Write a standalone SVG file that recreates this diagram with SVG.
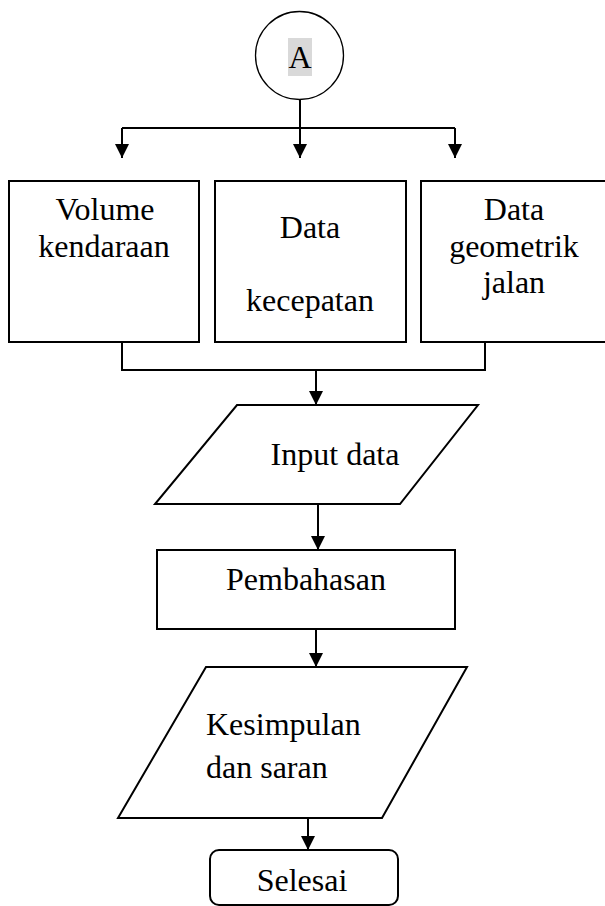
<svg xmlns="http://www.w3.org/2000/svg" width="605" height="906" viewBox="0 0 605 906">
<defs>
<marker id="ah" viewBox="0 0 10 10" refX="10" refY="5" markerWidth="14" markerHeight="15" markerUnits="userSpaceOnUse" orient="auto">
<path d="M0,0 L10,5 L0,10 Z" fill="#000"/>
</marker>
<style>
.box{fill:#fff;stroke:#000;stroke-width:2}
.thin{fill:#fff;stroke:#000;stroke-width:1.3}
.ln{fill:none;stroke:#000;stroke-width:2}
.t{font-family:"Liberation Serif","Times New Roman",serif;font-size:32px;fill:#000}
.c{text-anchor:middle}
</style>
</defs>
<rect width="605" height="906" fill="#fff"/>
<g id="connectors">
<path class="ln" d="M300,100 V128"/>
<path class="ln" d="M122,128 H455"/>
<path class="ln" d="M122,128 V158" marker-end="url(#ah)"/>
<path class="ln" d="M300,128 V158" marker-end="url(#ah)"/>
<path class="ln" d="M455,128 V158" marker-end="url(#ah)"/>
<path class="ln" d="M122,342 V370 H485 V342"/>
<path class="ln" d="M316,370 V405" marker-end="url(#ah)"/>
<path class="ln" d="M318,504 V550" marker-end="url(#ah)"/>
<path class="ln" d="M316,629 V667" marker-end="url(#ah)"/>
<path class="ln" d="M308,818 V850" marker-end="url(#ah)"/>
</g>
<g id="nodeA">
<circle class="thin" cx="299.5" cy="55.5" r="44"/>
<rect x="288" y="38" width="24" height="38" fill="#d9d9d9"/>
<text class="t c" x="300" y="68">A</text>
</g>
<g id="volume">
<rect class="box" x="9" y="181" width="190" height="161"/>
<text class="t c" x="105" y="220">Volume</text>
<text class="t c" x="104" y="257">kendaraan</text>
</g>
<g id="kecepatan">
<rect class="box" x="215" y="181" width="191" height="161"/>
<text class="t c" x="310" y="238">Data</text>
<text class="t c" x="310" y="311">kecepatan</text>
</g>
<g id="geometrik">
<rect class="box" x="421" y="181" width="186" height="161"/>
<text class="t c" x="514" y="220">Data</text>
<text class="t c" x="514" y="257">geometrik</text>
<text class="t c" x="514" y="293">jalan</text>
</g>
<g id="input">
<polygon class="box" points="237,405 478,405 400,504 155,504"/>
<text class="t c" x="335" y="465">Input data</text>
</g>
<g id="pembahasan">
<rect class="box" x="157" y="550" width="298" height="79"/>
<text class="t c" x="306" y="590">Pembahasan</text>
</g>
<g id="kesimpulan">
<polygon class="box" points="206,667 467,667 382,818 118,818"/>
<text class="t" x="206" y="735">Kesimpulan</text>
<text class="t" x="206" y="778">dan saran</text>
</g>
<g id="selesai">
<rect class="box" x="210" y="850" width="188" height="55" rx="9"/>
<text class="t c" x="302" y="891">Selesai</text>
</g>
</svg>
